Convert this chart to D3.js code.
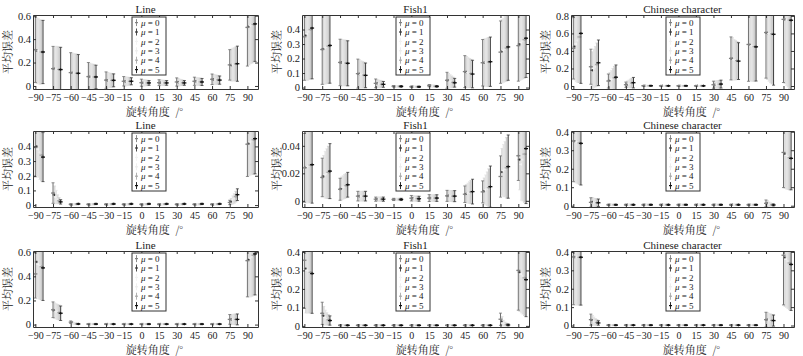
<!DOCTYPE html>
<html><head><meta charset="utf-8">
<script src="https://cdn.jsdelivr.net/npm/d3@7"></script>
<style>body{margin:0;background:#fff} svg{display:block}</style>
</head><body>
<svg id="c" width="803" height="356"></svg>
<script>
// ---------- data ----------
const categories = [-90,-75,-60,-45,-30,-15,0,15,30,45,60,75,90];
const muValues = [0,1,2,3,4,5];
const titles = ["Line","Fish1","Chinese character"];
const xLabel = "旋转角度  /°";
const yLabel = "平均误差";
const yTicksA = [0,0.2,0.4,0.6];
const yTicksB = [0,0.1,0.2,0.3,0.4];
const yTicksC = [0,0.2,0.4,0.6,0.8];
const yTicksD = [0,0.02,0.04];

// row 1
const lineA_mean = [
 [0.31,0.148,0.114,0.08,0.05,0.04,0.028,0.028,0.034,0.04,0.057,0.18,0.50],
 [0.30,0.146,0.112,0.079,0.049,0.039,0.027,0.027,0.032,0.039,0.055,0.178,0.51],
 [0.30,0.144,0.111,0.078,0.049,0.039,0.027,0.027,0.030,0.038,0.054,0.182,0.515],
 [0.29,0.142,0.110,0.078,0.048,0.040,0.026,0.026,0.029,0.037,0.053,0.185,0.52],
 [0.29,0.141,0.109,0.077,0.048,0.040,0.026,0.026,0.027,0.035,0.052,0.188,0.525],
 [0.29,0.140,0.108,0.077,0.048,0.040,0.026,0.026,0.026,0.034,0.050,0.190,0.53]];
const lineA_err = [
 [0.28,0.19,0.17,0.12,0.07,0.04,0.03,0.025,0.035,0.035,0.045,0.13,0.33],
 [0.28,0.19,0.168,0.115,0.066,0.038,0.028,0.024,0.032,0.034,0.043,0.135,0.33],
 [0.275,0.195,0.165,0.11,0.062,0.036,0.026,0.023,0.028,0.033,0.041,0.14,0.325],
 [0.275,0.195,0.163,0.108,0.06,0.034,0.024,0.022,0.025,0.032,0.039,0.14,0.325],
 [0.27,0.19,0.162,0.104,0.058,0.032,0.022,0.021,0.022,0.031,0.037,0.145,0.32],
 [0.27,0.19,0.16,0.10,0.055,0.03,0.02,0.02,0.02,0.03,0.035,0.15,0.32]];

const fishA_mean = [
 [0.35,0.262,0.173,0.096,0.029,0.009,0.006,0.013,0.05,0.11,0.171,0.244,0.289],
 [0.36,0.268,0.172,0.094,0.028,0.009,0.006,0.012,0.047,0.107,0.172,0.25,0.30],
 [0.37,0.274,0.171,0.091,0.026,0.009,0.006,0.011,0.044,0.104,0.173,0.257,0.31],
 [0.385,0.28,0.17,0.089,0.025,0.008,0.005,0.010,0.04,0.10,0.175,0.265,0.32],
 [0.40,0.285,0.169,0.086,0.023,0.008,0.005,0.009,0.036,0.097,0.176,0.272,0.33],
 [0.41,0.29,0.167,0.084,0.022,0.008,0.005,0.008,0.033,0.093,0.178,0.28,0.34]];
const fishA_err = [
 [0.30,0.24,0.16,0.10,0.03,0.005,0.004,0.008,0.055,0.11,0.16,0.215,0.245],
 [0.31,0.245,0.16,0.097,0.028,0.005,0.004,0.007,0.05,0.107,0.162,0.218,0.25],
 [0.32,0.25,0.158,0.094,0.026,0.005,0.004,0.007,0.045,0.104,0.164,0.221,0.255],
 [0.33,0.252,0.157,0.091,0.024,0.005,0.004,0.006,0.04,0.10,0.166,0.224,0.26],
 [0.34,0.256,0.156,0.088,0.022,0.005,0.004,0.006,0.035,0.097,0.168,0.227,0.265],
 [0.35,0.26,0.155,0.085,0.02,0.005,0.004,0.005,0.03,0.095,0.17,0.23,0.27]];

const charA_mean = [
 [0.43,0.22,0.057,0.015,0.003,0.002,0.002,0.002,0.015,0.315,0.474,0.61,0.76],
 [0.45,0.18,0.065,0.02,0.003,0.002,0.002,0.002,0.016,0.31,0.47,0.605,0.758],
 [0.48,0.20,0.075,0.025,0.003,0.002,0.002,0.002,0.018,0.30,0.46,0.60,0.755],
 [0.52,0.22,0.085,0.03,0.003,0.002,0.002,0.002,0.019,0.295,0.455,0.598,0.753],
 [0.56,0.245,0.093,0.034,0.003,0.002,0.002,0.002,0.02,0.29,0.45,0.595,0.752],
 [0.60,0.265,0.10,0.038,0.003,0.002,0.002,0.002,0.022,0.284,0.447,0.59,0.75]];
const charA_err = [
 [0.35,0.20,0.08,0.03,0.003,0.002,0.002,0.002,0.04,0.245,0.42,0.52,0.72],
 [0.38,0.21,0.09,0.036,0.003,0.002,0.002,0.002,0.041,0.24,0.41,0.53,0.73],
 [0.43,0.22,0.10,0.042,0.003,0.002,0.002,0.002,0.042,0.23,0.405,0.545,0.75],
 [0.48,0.23,0.115,0.048,0.003,0.002,0.002,0.002,0.043,0.225,0.40,0.56,0.765],
 [0.52,0.245,0.13,0.054,0.003,0.002,0.002,0.002,0.044,0.215,0.395,0.57,0.78],
 [0.57,0.26,0.14,0.06,0.003,0.002,0.002,0.002,0.045,0.21,0.39,0.58,0.79]];

// row 2
const lineB_mean = [
 [0.393,0.082,0.005,0.005,0.005,0.005,0.005,0.005,0.005,0.005,0.005,0.018,0.415],
 [0.40,0.07,0.005,0.005,0.005,0.005,0.005,0.005,0.005,0.005,0.005,0.025,0.42],
 [0.38,0.055,0.006,0.006,0.006,0.006,0.006,0.006,0.006,0.006,0.006,0.035,0.43],
 [0.36,0.04,0.006,0.006,0.006,0.006,0.006,0.006,0.006,0.006,0.006,0.045,0.44],
 [0.34,0.03,0.007,0.007,0.007,0.007,0.007,0.007,0.007,0.007,0.007,0.058,0.445],
 [0.327,0.022,0.008,0.008,0.008,0.008,0.008,0.008,0.008,0.008,0.008,0.071,0.453]];
const lineB_err = [
 [0.20,0.07,0.004,0.004,0.004,0.004,0.004,0.004,0.004,0.004,0.004,0.015,0.22],
 [0.20,0.06,0.004,0.004,0.004,0.004,0.004,0.004,0.004,0.004,0.004,0.02,0.22],
 [0.19,0.045,0.004,0.004,0.004,0.004,0.004,0.004,0.004,0.004,0.004,0.028,0.225],
 [0.185,0.03,0.004,0.004,0.004,0.004,0.004,0.004,0.004,0.004,0.004,0.032,0.23],
 [0.175,0.02,0.004,0.004,0.004,0.004,0.004,0.004,0.004,0.004,0.004,0.036,0.235],
 [0.167,0.015,0.004,0.004,0.004,0.004,0.004,0.004,0.004,0.004,0.004,0.04,0.24]];

const fishB_mean = [
 [0.024,0.017,0.0084,0.0034,0.0012,0.001,0.0019,0.002,0.0036,0.0048,0.0065,0.0177,0.0328],
 [0.0245,0.018,0.009,0.0034,0.0012,0.001,0.0018,0.002,0.0036,0.0052,0.0072,0.021,0.030],
 [0.025,0.019,0.0097,0.0034,0.0012,0.001,0.0017,0.002,0.0035,0.0056,0.008,0.022,0.0265],
 [0.0255,0.0198,0.0104,0.0034,0.0012,0.001,0.0016,0.002,0.0035,0.006,0.0088,0.023,0.030],
 [0.026,0.0207,0.011,0.0034,0.0012,0.001,0.0016,0.002,0.0034,0.0064,0.0096,0.024,0.034],
 [0.0263,0.0216,0.0117,0.0034,0.0012,0.001,0.0015,0.002,0.0034,0.0067,0.0103,0.0249,0.038]];
const fishB_err = [
 [0.025,0.014,0.008,0.0035,0.0015,0.0008,0.002,0.0025,0.004,0.006,0.008,0.015,0.018],
 [0.026,0.015,0.0083,0.0035,0.0015,0.0008,0.002,0.0025,0.004,0.0066,0.0094,0.017,0.022],
 [0.026,0.017,0.0085,0.0035,0.0015,0.0008,0.0019,0.0024,0.004,0.0072,0.0108,0.019,0.026],
 [0.027,0.018,0.0087,0.0035,0.0015,0.0008,0.0019,0.0024,0.004,0.0078,0.0122,0.020,0.030],
 [0.027,0.019,0.0088,0.0035,0.0015,0.0008,0.0018,0.0024,0.004,0.0084,0.0136,0.022,0.035],
 [0.028,0.020,0.009,0.0035,0.0015,0.0008,0.0018,0.0024,0.004,0.009,0.015,0.023,0.040]];

const charB_mean = [
 [0.35,0.018,0.005,0.005,0.005,0.005,0.005,0.005,0.005,0.005,0.005,0.013,0.288],
 [0.348,0.02,0.005,0.005,0.005,0.005,0.005,0.005,0.005,0.005,0.005,0.012,0.28],
 [0.345,0.017,0.005,0.005,0.005,0.005,0.005,0.005,0.005,0.005,0.005,0.009,0.272],
 [0.342,0.017,0.005,0.005,0.005,0.005,0.005,0.005,0.005,0.005,0.005,0.007,0.266],
 [0.34,0.016,0.005,0.005,0.005,0.005,0.005,0.005,0.005,0.005,0.005,0.005,0.26],
 [0.337,0.016,0.005,0.005,0.005,0.005,0.005,0.005,0.005,0.005,0.005,0.004,0.256]];
const charB_err = [
 [0.22,0.025,0.003,0.003,0.003,0.003,0.003,0.003,0.003,0.003,0.003,0.018,0.19],
 [0.22,0.024,0.003,0.003,0.003,0.003,0.003,0.003,0.003,0.003,0.003,0.015,0.186],
 [0.222,0.023,0.003,0.003,0.003,0.003,0.003,0.003,0.003,0.003,0.003,0.011,0.182],
 [0.223,0.022,0.003,0.003,0.003,0.003,0.003,0.003,0.003,0.003,0.003,0.008,0.178],
 [0.224,0.021,0.003,0.003,0.003,0.003,0.003,0.003,0.003,0.003,0.003,0.006,0.174],
 [0.225,0.02,0.003,0.003,0.003,0.003,0.003,0.003,0.003,0.003,0.003,0.005,0.17]];

// row 3
const lineC_mean = [
 [0.42,0.123,0.02,0.004,0.004,0.004,0.004,0.004,0.004,0.004,0.004,0.043,0.53],
 [0.52,0.115,0.015,0.004,0.004,0.004,0.004,0.004,0.004,0.004,0.004,0.043,0.54],
 [0.50,0.11,0.01,0.004,0.004,0.004,0.004,0.004,0.004,0.004,0.004,0.043,0.55],
 [0.49,0.105,0.008,0.004,0.004,0.004,0.004,0.004,0.004,0.004,0.004,0.043,0.56],
 [0.48,0.10,0.006,0.004,0.004,0.004,0.004,0.004,0.004,0.004,0.004,0.043,0.575],
 [0.47,0.094,0.005,0.004,0.004,0.004,0.004,0.004,0.004,0.004,0.004,0.043,0.586]];
const lineC_err = [
 [0.20,0.065,0.01,0.003,0.003,0.003,0.003,0.003,0.003,0.003,0.003,0.04,0.30],
 [0.29,0.064,0.008,0.003,0.003,0.003,0.003,0.003,0.003,0.003,0.003,0.041,0.31],
 [0.285,0.063,0.006,0.003,0.003,0.003,0.003,0.003,0.003,0.003,0.003,0.042,0.32],
 [0.28,0.062,0.005,0.003,0.003,0.003,0.003,0.003,0.003,0.003,0.003,0.043,0.325],
 [0.275,0.061,0.004,0.003,0.003,0.003,0.003,0.003,0.003,0.003,0.003,0.044,0.33],
 [0.27,0.06,0.004,0.003,0.003,0.003,0.003,0.003,0.003,0.003,0.003,0.045,0.34]];

const fishC_mean = [
 [0.355,0.068,0.003,0.003,0.003,0.003,0.003,0.003,0.003,0.003,0.003,0.036,0.30],
 [0.31,0.055,0.003,0.003,0.003,0.003,0.003,0.003,0.003,0.003,0.003,0.025,0.29],
 [0.30,0.045,0.003,0.003,0.003,0.003,0.003,0.003,0.003,0.003,0.003,0.015,0.28],
 [0.295,0.038,0.003,0.003,0.003,0.003,0.003,0.003,0.003,0.003,0.003,0.01,0.27],
 [0.29,0.033,0.003,0.003,0.003,0.003,0.003,0.003,0.003,0.003,0.003,0.007,0.26],
 [0.283,0.029,0.003,0.003,0.003,0.003,0.003,0.003,0.003,0.003,0.003,0.005,0.25]];
const fishC_err = [
 [0.26,0.06,0.002,0.002,0.002,0.002,0.002,0.002,0.002,0.002,0.002,0.033,0.215],
 [0.24,0.05,0.002,0.002,0.002,0.002,0.002,0.002,0.002,0.002,0.002,0.025,0.212],
 [0.23,0.04,0.002,0.002,0.002,0.002,0.002,0.002,0.002,0.002,0.002,0.015,0.21],
 [0.225,0.033,0.002,0.002,0.002,0.002,0.002,0.002,0.002,0.002,0.002,0.01,0.206],
 [0.22,0.028,0.002,0.002,0.002,0.002,0.002,0.002,0.002,0.002,0.002,0.007,0.203],
 [0.215,0.025,0.002,0.002,0.002,0.002,0.002,0.002,0.002,0.002,0.002,0.005,0.20]];

const charC_mean = [
 [0.373,0.032,0.002,0.002,0.002,0.002,0.002,0.002,0.002,0.002,0.002,0.032,0.382],
 [0.372,0.028,0.002,0.002,0.002,0.002,0.002,0.002,0.002,0.002,0.002,0.031,0.37],
 [0.372,0.024,0.002,0.002,0.002,0.002,0.002,0.002,0.002,0.002,0.002,0.03,0.36],
 [0.372,0.02,0.002,0.002,0.002,0.002,0.002,0.002,0.002,0.002,0.002,0.029,0.35],
 [0.371,0.017,0.002,0.002,0.002,0.002,0.002,0.002,0.002,0.002,0.002,0.028,0.34],
 [0.371,0.014,0.002,0.002,0.002,0.002,0.002,0.002,0.002,0.002,0.002,0.027,0.332]];
const charC_err = [
 [0.26,0.03,0.002,0.002,0.002,0.002,0.002,0.002,0.002,0.002,0.002,0.04,0.27],
 [0.26,0.026,0.002,0.002,0.002,0.002,0.002,0.002,0.002,0.002,0.002,0.038,0.266],
 [0.26,0.022,0.002,0.002,0.002,0.002,0.002,0.002,0.002,0.002,0.002,0.036,0.262],
 [0.26,0.018,0.002,0.002,0.002,0.002,0.002,0.002,0.002,0.002,0.002,0.034,0.258],
 [0.26,0.015,0.002,0.002,0.002,0.002,0.002,0.002,0.002,0.002,0.002,0.032,0.254],
 [0.26,0.012,0.002,0.002,0.002,0.002,0.002,0.002,0.002,0.002,0.002,0.03,0.25]];

// ---------- layout ----------
const panels = [
 {title:titles[0], mean:lineA_mean, err:lineA_err, yd:[-0.026,0.606], ticks:yTicksA},
 {title:titles[1], mean:fishA_mean, err:fishA_err, yd:[-0.01,0.5], ticks:yTicksB},
 {title:titles[2], mean:charA_mean, err:charA_err, yd:[-0.034,0.81], ticks:yTicksC},
 {title:titles[0], mean:lineB_mean, err:lineB_err, yd:[-0.013,0.505], ticks:yTicksB},
 {title:titles[1], mean:fishB_mean, err:fishB_err, yd:[-0.0045,0.0508], ticks:yTicksD},
 {title:titles[2], mean:charB_mean, err:charB_err, yd:[-0.007,0.404], ticks:yTicksB},
 {title:titles[0], mean:lineC_mean, err:lineC_err, yd:[-0.02,0.61], ticks:yTicksA},
 {title:titles[1], mean:fishC_mean, err:fishC_err, yd:[-0.006,0.405], ticks:yTicksB},
 {title:titles[2], mean:charC_mean, err:charC_err, yd:[-0.008,0.405], ticks:yTicksB}
];
const colX = [[33,258],[302,529],[571,794]];
const rowY = [[15,89],[131,207],[251,327]];
const legX = [132,396,666];
const offsets = [0,1.3,2.6,3.9,5.2,6.5];
const barColor = ["#707070","#dadada","#e4e4e4","#dddddd","#cccccc","#3a3a3a"];
const barWidth = [1,1.8,1.8,1.8,1.8,1];
const markColor = ["#808080","#383838","#f2f2f2","#ececec","#a8a8a8","#111111"];
const serif = "'Liberation Serif','DejaVu Serif',serif";
const cjk = "'Noto Serif CJK SC','Noto Sans CJK SC','Noto Sans CJK JP',sans-serif";
const ink = "#222";

const svg = d3.select("#c");
const defs = svg.append("defs");
const fmt = d => d < 0 ? "\u2212" + (-d) : String(d);

panels.forEach((p, i) => {
  const c = i % 3, r = Math.floor(i / 3);
  const [x0, x1] = colX[c], [y0, y1] = rowY[r];
  const x = d3.scaleLinear().domain([-92, 99]).range([x0, x1]);
  const y = d3.scaleLinear().domain(p.yd).range([y1, y0]);
  const g = svg.append("g");

  defs.append("clipPath").attr("id", "cl" + i).append("rect")
    .attr("x", x0).attr("y", y0).attr("width", x1 - x0).attr("height", y1 - y0);
  const plot = g.append("g").attr("clip-path", `url(#cl${i})`);

  [1,2,3,4,0,5].forEach(s => {
    const sg = plot.append("g");
    categories.forEach((cat, k) => {
      const m = p.mean[s][k], e = p.err[s][k];
      const cx = x(cat + offsets[s]);
      const yt = y(m + e), yb = y(m - e);
      sg.append("line").attr("x1", cx).attr("x2", cx).attr("y1", yt).attr("y2", yb)
        .attr("stroke", barColor[s]).attr("stroke-width", barWidth[s]);
      [yt, yb].forEach(yy => sg.append("line")
        .attr("x1", cx - 1.5).attr("x2", cx + 1.5).attr("y1", yy).attr("y2", yy)
        .attr("stroke", barColor[s]).attr("stroke-width", 0.8));
      sg.append("line").attr("x1", cx - 2).attr("x2", cx + 2).attr("y1", y(m)).attr("y2", y(m))
        .attr("stroke", markColor[s]).attr("stroke-width", 1.3);
      sg.append("line").attr("x1", cx).attr("x2", cx).attr("y1", y(m) - 1.2).attr("y2", y(m) + 1.2)
        .attr("stroke", markColor[s]).attr("stroke-width", 1);
    });
  });

  // axes
  const styleAxis = (a, fs) => {
    a.selectAll("path,line").attr("stroke", "#333");
    a.selectAll("text").attr("fill", ink).attr("font-family", serif).attr("font-size", fs);
  };
  g.append("g").attr("transform", `translate(0,${y1})`)
    .call(d3.axisBottom(x).tickValues(categories).tickFormat(fmt).tickSizeInner(-3).tickSizeOuter(0).tickPadding(5))
    .call(styleAxis, 10);
  g.append("g").attr("transform", `translate(0,${y0})`)
    .call(d3.axisTop(x).tickValues(categories).tickFormat("").tickSizeInner(-3).tickSizeOuter(0))
    .call(styleAxis, 10);
  g.append("g").attr("transform", `translate(${x0},0)`)
    .call(d3.axisLeft(y).tickValues(p.ticks).tickFormat(d => String(+d.toFixed(3))).tickSizeInner(-3).tickSizeOuter(0).tickPadding(2))
    .call(styleAxis, 10.5);
  g.append("g").attr("transform", `translate(${x1},0)`)
    .call(d3.axisRight(y).tickValues(p.ticks).tickFormat("").tickSizeInner(-3).tickSizeOuter(0))
    .call(styleAxis, 10);

  // title
  g.append("text").attr("x", (x0 + x1) / 2).attr("y", y0 - 2).attr("text-anchor", "middle")
    .attr("font-family", serif).attr("font-size", 11).attr("fill", ink).text(p.title);
  // x label
  g.append("text").attr("x", (x0 + x1) / 2 + 9).attr("y", y1 + 26.5).attr("text-anchor", "middle")
    .attr("font-family", cjk).attr("font-size", 11).attr("fill", ink).attr("xml:space", "preserve")
    .style("white-space", "pre").text(xLabel);
  // y label
  g.append("text").attr("transform", `translate(${x0 - 21},${(y0 + y1) / 2}) rotate(-90)`)
    .attr("text-anchor", "middle").attr("font-family", cjk).attr("font-size", 11).attr("fill", ink)
    .text(yLabel);

  // legend
  const lx = legX[c], ly = y0 + 2;
  const lg = g.append("g");
  lg.append("rect").attr("x", lx).attr("y", ly).attr("width", 34).attr("height", 58)
    .attr("fill", "#fff").attr("stroke", "#333").attr("stroke-width", 1);
  muValues.forEach((mu, j) => {
    const yy = ly + 5.6 + j * 9.4;
    lg.append("line").attr("x1", lx + 4.5).attr("x2", lx + 4.5).attr("y1", yy - 3.5).attr("y2", yy + 3.5)
      .attr("stroke", markColor[j]).attr("stroke-width", 0.9);
    lg.append("line").attr("x1", lx + 3).attr("x2", lx + 6).attr("y1", yy).attr("y2", yy)
      .attr("stroke", markColor[j]).attr("stroke-width", 1.2);
    const t = lg.append("text").attr("x", lx + 9).attr("y", yy + 3.1)
      .attr("font-family", serif).attr("font-size", 9).attr("fill", ink);
    t.append("tspan").attr("font-style", "italic").text("μ");
    t.append("tspan").text(" = " + mu);
  });
});
</script>
</body></html>
